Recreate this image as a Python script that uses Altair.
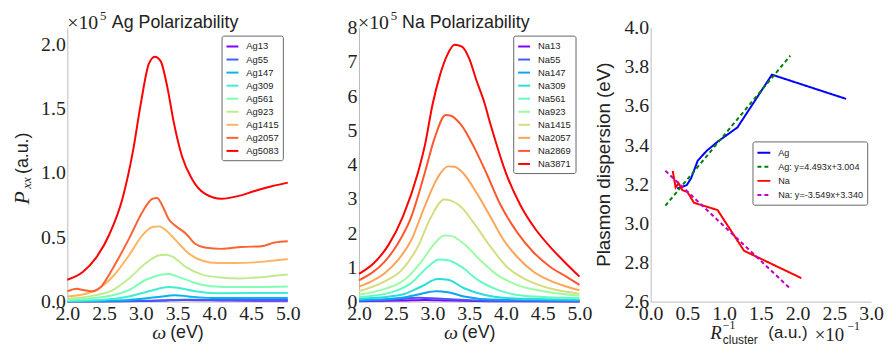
import altair as alt
import pandas as pd

# ---------------- Ag polarizability (x1e5 a.u.) ----------------
ag_names = ["Ag13", "Ag55", "Ag147", "Ag309", "Ag561", "Ag923", "Ag1415", "Ag2057", "Ag5083"]
ag_colors = ["#8000ff", "#4062fa", "#00b5eb", "#40ecd4", "#80ffb4", "#c0ec8e", "#ffb462", "#ff6232", "#ff0000"]
ag_w = {
    "Ag13": [2.0, 2.5, 3.0, 3.3, 3.6, 4.2, 5.0],
    "Ag55": [2.0, 2.6, 3.0, 3.3, 3.6, 4.1, 5.0],
    "Ag147": [2.0, 2.4, 2.84, 3.2, 3.47, 3.65, 3.96, 5.0],
    "Ag309": [2.0, 2.5, 2.84, 3.11, 3.38, 3.47, 3.74, 4.01, 5.0],
    "Ag561": [2.0, 2.62, 2.84, 3.07, 3.29, 3.38, 3.52, 3.74, 3.96, 4.28, 5.0],
    "Ag923": [2.0, 2.39, 2.62, 2.84, 3.07, 3.25, 3.34, 3.43, 3.61, 3.83, 4.05, 4.37, 4.64, 5.0],
    "Ag1415": [2.0, 2.21, 2.39, 2.62, 2.84, 3.02, 3.16, 3.25, 3.34, 3.47, 3.65, 3.83, 4.05, 4.28, 4.55, 4.82, 5.0],
    "Ag2057": [2.0, 2.13, 2.21, 2.35, 2.44, 2.62, 2.84, 3.02, 3.16, 3.22, 3.29, 3.38, 3.47, 3.61, 3.74, 3.87, 4.10, 4.37, 4.64, 4.82, 5.0],
    "Ag5083": [2.0, 2.21, 2.39, 2.57, 2.75, 2.89, 3.0, 3.11, 3.19, 3.27, 3.36, 3.45, 3.56, 3.70, 3.87, 4.10, 4.32, 4.55, 4.77, 5.0],
}
ag_p = {
    "Ag13": [0.002, 0.003, 0.004, 0.008, 0.012, 0.008, 0.006],
    "Ag55": [0.0, 0.003, 0.006, 0.009, 0.015, 0.013, 0.013],
    "Ag147": [0.002, 0.006, 0.013, 0.033, 0.05, 0.04, 0.028, 0.028],
    "Ag309": [0.005, 0.015, 0.04, 0.08, 0.113, 0.11, 0.08, 0.065, 0.067],
    "Ag561": [0.013, 0.05, 0.09, 0.17, 0.21, 0.215, 0.19, 0.145, 0.12, 0.113, 0.118],
    "Ag923": [0.023, 0.05, 0.09, 0.18, 0.30, 0.36, 0.365, 0.35, 0.27, 0.21, 0.19, 0.18, 0.19, 0.21],
    "Ag1415": [0.04, 0.055, 0.09, 0.195, 0.36, 0.515, 0.58, 0.585, 0.555, 0.48, 0.375, 0.32, 0.30, 0.30, 0.305, 0.32, 0.33],
    "Ag2057": [0.08, 0.10, 0.09, 0.08, 0.105, 0.26, 0.49, 0.695, 0.80, 0.805, 0.75, 0.64, 0.59, 0.53, 0.45, 0.42, 0.41, 0.425, 0.43, 0.46, 0.47],
    "Ag5083": [0.17, 0.23, 0.34, 0.52, 0.80, 1.16, 1.54, 1.85, 1.905, 1.87, 1.67, 1.39, 1.13, 0.95, 0.84, 0.80, 0.82, 0.86, 0.895, 0.925],
}

# ---------------- Na polarizability (x1e5 a.u.) ----------------
na_names = ["Na13", "Na55", "Na147", "Na309", "Na561", "Na923", "Na1415", "Na2057", "Na2869", "Na3871"]
na_colors = ["#8000ff", "#4757fb", "#0ea4f0", "#2adddd", "#63fbc3", "#9cfba4", "#d5dd80", "#ffa457", "#ff572c", "#ff0000"]
na_w = {
    "Na13": [2.0, 2.6, 2.9, 3.2, 3.8, 5.0],
    "Na55": [2.0, 2.5, 2.8, 3.0, 3.3, 3.8, 5.0],
    "Na147": [2.0, 2.58, 2.85, 3.05, 3.21, 3.43, 3.79, 5.0],
    "Na309": [2.0, 2.58, 2.85, 3.07, 3.21, 3.43, 3.70, 4.06, 5.0],
    "Na561": [2.0, 2.44, 2.71, 2.94, 3.09, 3.21, 3.39, 3.61, 3.88, 4.24, 5.0],
    "Na923": [2.0, 2.35, 2.62, 2.85, 3.03, 3.16, 3.25, 3.43, 3.65, 3.88, 4.15, 4.51, 5.0],
    "Na1415": [2.0, 2.35, 2.58, 2.80, 2.98, 3.16, 3.25, 3.39, 3.57, 3.79, 4.01, 4.24, 4.51, 4.78, 5.0],
    "Na2057": [2.0, 2.17, 2.35, 2.53, 2.71, 2.89, 3.07, 3.21, 3.30, 3.43, 3.61, 3.79, 3.97, 4.15, 4.37, 4.60, 4.82, 5.0],
    "Na2869": [2.0, 2.17, 2.35, 2.53, 2.71, 2.89, 3.03, 3.18, 3.25, 3.39, 3.57, 3.74, 3.92, 4.15, 4.37, 4.60, 4.82, 5.0],
    "Na3871": [2.0, 2.2, 2.4, 2.6, 2.8, 2.9, 3.0, 3.1, 3.2, 3.3, 3.4, 3.5, 3.6, 3.7, 3.8, 4.0, 4.2, 4.4, 4.6, 4.8, 5.0],
}
na_p = {
    "Na13": [0.01, 0.03, 0.045, 0.03, 0.01, 0.005],
    "Na55": [0.02, 0.06, 0.11, 0.10, 0.06, 0.02, 0.01],
    "Na147": [0.04, 0.11, 0.23, 0.30, 0.27, 0.15, 0.06, 0.03],
    "Na309": [0.08, 0.20, 0.44, 0.66, 0.64, 0.39, 0.20, 0.10, 0.06],
    "Na561": [0.13, 0.27, 0.54, 1.02, 1.23, 1.21, 1.02, 0.64, 0.35, 0.17, 0.10],
    "Na923": [0.20, 0.37, 0.64, 1.17, 1.70, 1.93, 1.92, 1.68, 1.21, 0.78, 0.49, 0.30, 0.17],
    "Na1415": [0.30, 0.59, 0.92, 1.60, 2.47, 2.98, 2.95, 2.76, 2.27, 1.60, 1.02, 0.68, 0.44, 0.30, 0.23],
    "Na2057": [0.44, 0.59, 0.83, 1.21, 1.79, 2.76, 3.62, 3.95, 3.94, 3.72, 3.14, 2.47, 1.79, 1.31, 0.88, 0.61, 0.44, 0.33],
    "Na2869": [0.62, 0.83, 1.17, 1.70, 2.47, 3.72, 4.78, 5.45, 5.43, 5.16, 4.49, 3.72, 2.85, 2.03, 1.45, 1.02, 0.73, 0.49],
    "Na3871": [0.81, 1.12, 1.65, 2.5, 3.75, 4.6, 5.75, 6.6, 7.2, 7.5, 7.45, 7.1, 6.45, 5.85, 5.1, 3.75, 2.8, 2.12, 1.6, 1.15, 0.73],
}

# ---------------- Plasmon dispersion ----------------
disp_names = ["Ag", "Ag: y=4.493x+3.004", "Na", "Na: y=-3.549x+3.340"]
disp_colors = ["#0000ff", "#008000", "#ff0000", "#bf00bf"]
disp_dash = [[1, 0], [4, 3], [1, 0], [4, 3]]
disp_x = {
    "Ag": [0.36, 0.49, 0.55, 0.64, 0.76, 0.92, 1.18, 1.65, 2.66],
    "Ag: y=4.493x+3.004": [0.2, 1.9],
    "Na": [0.30, 0.34, 0.38, 0.43, 0.50, 0.59, 0.91, 1.27, 2.05],
    "Na: y=-3.549x+3.340": [0.2, 1.9],
}
disp_y = {
    "Ag": [3.178, 3.195, 3.23, 3.32, 3.37, 3.42, 3.49, 3.76, 3.636],
    "Ag: y=4.493x+3.004": [3.09, 3.857],
    "Na": [3.268, 3.183, 3.205, 3.17, 3.16, 3.105, 3.068, 2.86, 2.72],
    "Na: y=-3.549x+3.340": [3.269, 2.666],
}

W, H = 223, 277
SERIF = "Liberation Serif"
SANS = "Liberation Sans"
INK = "#222222"
dummy = pd.DataFrame({"k": [0]})


def to_df(names, xs, ys):
    rows = []
    for n in names:
        for a, b in zip(xs[n], ys[n]):
            rows.append({"s": n, "x": a, "y": b})
    return pd.DataFrame(rows)


def txt(text, x, y, size, font=SANS, style="normal", align="left", angle=0):
    return alt.Chart(dummy).mark_text(
        text=text, font=font, fontSize=size, fontStyle=style, align=align,
        baseline="middle", angle=angle, color=INK
    ).encode(x=alt.value(x), y=alt.value(y))


def axis(values, fmt, orient):
    return alt.Axis(values=values, format=fmt, title=None, labelFont=SERIF, labelFontSize=20,
                    labelColor=INK, labelPadding=2,
                    domainColor="#bbbbbb", domainWidth=1,
                    ticks=False, grid=False, labelFlush=False, labelOverlap=False)


def legend(x, y, size=144, fs=9.5):
    return alt.Legend(title=None, orient="none", legendX=x, legendY=y, symbolType="stroke",
                      symbolStrokeWidth=2, symbolSize=size, labelFont=SANS, labelFontSize=fs,
                      labelColor=INK, padding=4, rowPadding=1.2, labelOffset=7,
                      fillColor="white", strokeColor="#666666", cornerRadius=2)


xw = [2.0, 2.5, 3.0, 3.5, 4.0, 4.5, 5.0]

ag_df = to_df(ag_names, ag_w, ag_p)
ag_lines = alt.Chart(ag_df).mark_line(strokeWidth=2, interpolate="monotone").encode(
    x=alt.X("x:Q", scale=alt.Scale(domain=[2, 5], nice=False, zero=False), axis=axis(xw, ".1f", "x")),
    y=alt.Y("y:Q", scale=alt.Scale(domain=[0, 2.13], nice=False), axis=axis([0, 0.5, 1.0, 1.5, 2.0], ".1f", "y")),
    color=alt.Color("s:N", scale=alt.Scale(domain=ag_names, range=ag_colors), legend=legend(156, 8)),
)
p1 = alt.layer(
    ag_lines,
    txt("\u00d710", 0, -5, 20, SERIF),
    txt("5", 33, -12, 13, SERIF),
    txt("Ag Polarizability", 109, -5, 18, align="center"),
    txt("P", -46, 172, 22, SERIF, "italic", "center", 270),
    txt("xx", -41, 157, 13, SERIF, "italic", "center", 270),
    txt("(a.u.)", -45, 127, 18, SANS, "normal", "center", 270),
    txt("\u03c9", 93, 309, 20, SERIF, "italic", "center"),
    txt("(eV)", 104, 309, 18),
).properties(width=W, height=H)

na_df = to_df(na_names, na_w, na_p)
na_lines = alt.Chart(na_df).mark_line(strokeWidth=2, interpolate="monotone").encode(
    x=alt.X("x:Q", scale=alt.Scale(domain=[2, 5], nice=False, zero=False), axis=axis(xw, ".1f", "x")),
    y=alt.Y("y:Q", scale=alt.Scale(domain=[0, 8], nice=False), axis=axis(list(range(9)), "d", "y")),
    color=alt.Color("s:N", scale=alt.Scale(domain=na_names, range=na_colors), legend=legend(156, 8)),
)
p2 = alt.layer(
    na_lines,
    txt("\u00d710", -1, -5, 20, SERIF),
    txt("5", 32, -12, 13, SERIF),
    txt("Na Polarizability", 108, -5, 18, align="center"),
    txt("\u03c9", 93, 309, 20, SERIF, "italic", "center"),
    txt("(eV)", 104, 309, 18),
).properties(width=W, height=H)

d_df = to_df(disp_names, disp_x, disp_y)
d_leg = legend(103, 115, 169, 9.2)
d_lines = alt.Chart(d_df).mark_line(strokeWidth=2).encode(
    x=alt.X("x:Q", scale=alt.Scale(domain=[0, 3], nice=False),
            axis=axis([0, 0.5, 1.0, 1.5, 2.0, 2.5, 3.0], ".1f", "x")),
    y=alt.Y("y:Q", scale=alt.Scale(domain=[2.6, 4.0], nice=False, zero=False),
            axis=axis([2.6, 2.8, 3.0, 3.2, 3.4, 3.6, 3.8, 4.0], ".1f", "y")),
    color=alt.Color("s:N", scale=alt.Scale(domain=disp_names, range=disp_colors), legend=d_leg),
    strokeDash=alt.StrokeDash("s:N", scale=alt.Scale(domain=disp_names, range=disp_dash), legend=d_leg),
)
p3 = alt.layer(
    d_lines,
    txt("Plasmon dispersion (eV)", -47, 138.5, 19, SANS, "normal", "center", 270),
    txt("R", 66, 309, 19, SERIF, "italic", "center"),
    txt("\u22121", 73, 301, 12, SERIF),
    txt("cluster", 73, 316, 12),
    txt("(a.u.)", 119, 309, 17),
    txt("\u00d710", 166, 311, 19, SERIF),
    txt("\u22121", 199, 302, 12, SERIF),
).properties(width=W, height=H)

chart = alt.hconcat(p1, p2, p3, spacing=72, bounds="flush").resolve_scale(
    x="independent", y="independent", color="independent", strokeDash="independent"
).resolve_legend(color="independent", strokeDash="independent").properties(
    padding={"left": 3, "top": 0, "right": 0, "bottom": 0}, background="white"
).configure_view(stroke=None)

chart.save("out.html", embed_options={"renderer": "svg", "actions": False})
